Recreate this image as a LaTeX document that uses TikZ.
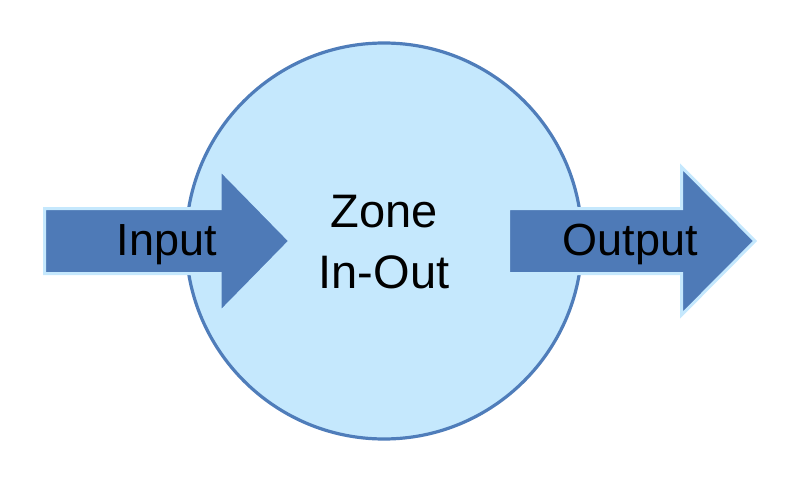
\documentclass[tikz,border=0pt]{standalone}
\usepackage{fontspec}
\setmainfont{Liberation Sans}
\definecolor{zonefill}{HTML}{C5E8FD}
\definecolor{zoneline}{HTML}{4F7DBA}
\definecolor{flowfill}{HTML}{4E7AB7}
\begin{document}
\begin{tikzpicture}[x=1pt,y=-1pt,line join=miter,
    flow/.style={fill=flowfill,draw=zonefill,line width=3pt},
    lbl/.style={font=\fontsize{45}{61}\selectfont,anchor=base,inner sep=0pt}]
        \useasboundingbox (0,0) rectangle (800,484);
        % zone
        \draw [fill=zonefill,draw=zoneline,line width=3.2pt] (384,241) circle (198);
        % arrows
        \draw [flow] (44.5,208.5)--(220,208.5)--(220,169.5)--(290,241)--(220,312.5)--(220,273.5)--(44.5,273.5)--cycle;
        \draw [flow] (508.5,208.5)--(681.5,208.5)--(681.5,167)--(755,241)--(681.5,315)--(681.5,273.5)--(508.5,273.5)--cycle;
        \node [lbl] (input) at (167,255){Input};
        \node [lbl] (output) at (630,255){Output};
        \node [lbl,font=\fontsize{47}{61}\selectfont] (zone) at (384,227){Zone};
        \node [lbl,font=\fontsize{47}{61}\selectfont] (inout) at (384,288){In-Out};
    \end{tikzpicture}
\end{document}
